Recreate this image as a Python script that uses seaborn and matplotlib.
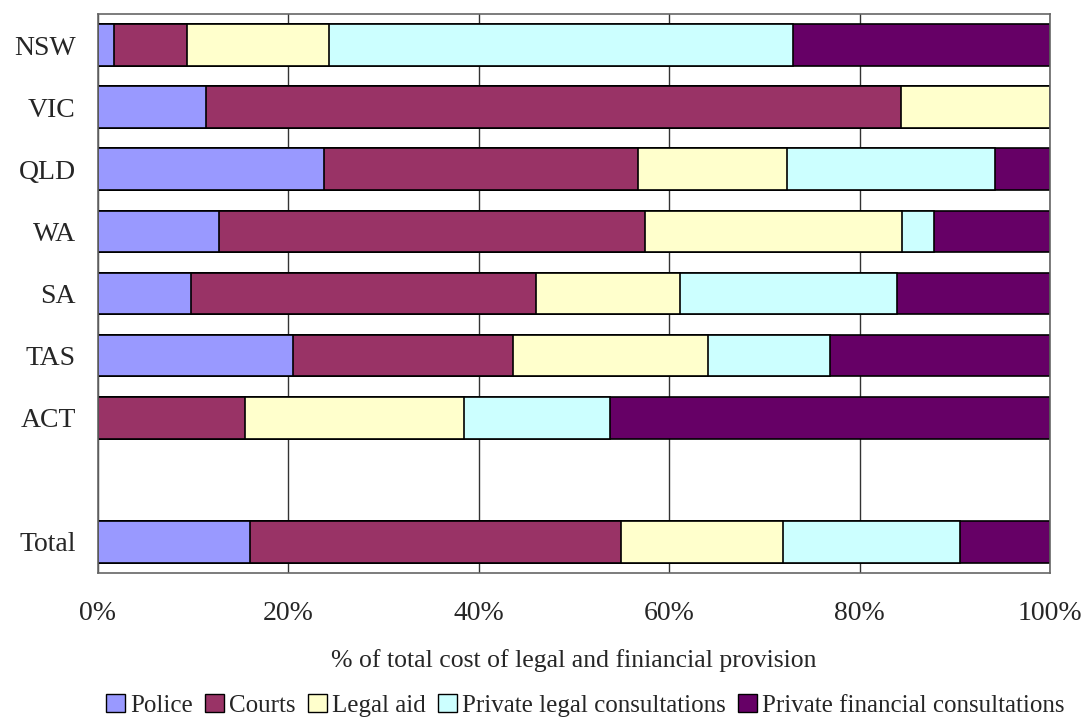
import numpy as np
import pandas as pd
import matplotlib
matplotlib.use("Agg")
import matplotlib.pyplot as plt
import seaborn as sns
from matplotlib.patches import Patch

# Data (percent of total cost)
states = ["NSW", "VIC", "QLD", "WA", "SA", "TAS", "ACT", "Total"]
police = [1.7, 11.3, 23.7, 12.7, 9.8, 20.45, 0.0, 16.0]
courts = [7.65, 73.05, 33.0, 44.75, 36.25, 23.15, 15.4, 38.9]
legal_aid = [14.95, 15.65, 15.7, 27.05, 15.05, 20.45, 23.05, 17.1]
private_legal = [48.7, 0.0, 21.85, 3.3, 22.8, 12.8, 15.35, 18.5]
private_financial = [27.0, 0.0, 5.75, 12.2, 16.1, 23.15, 46.2, 9.5]

series_names = ["Police", "Courts", "Legal aid", "Private legal consultations",
                "Private financial consultations"]
colors = ["#9999FF", "#993366", "#FFFFCC", "#CCFFFF", "#660066"]

# blank row between ACT and Total
order = ["NSW", "VIC", "QLD", "WA", "SA", "TAS", "ACT", " ", "Total"]

df = pd.DataFrame({
    "state": states,
    "Police": police,
    "Courts": courts,
    "Legal aid": legal_aid,
    "Private legal consultations": private_legal,
    "Private financial consultations": private_financial,
})
# normalise rows to 100%
vals = df[series_names].to_numpy()
vals = vals / vals.sum(axis=1, keepdims=True) * 100
cum = np.cumsum(vals, axis=1)

sns.set_style("white")
plt.rcParams["font.family"] = ["Liberation Serif", "DejaVu Serif"]

fig = plt.figure(figsize=(10.86, 7.18), dpi=100)
ax = fig.add_axes([0.0902, 0.2019, 0.8767, 0.7786])

# draw cumulative bars from the longest down so they stack visually
for i in range(len(series_names) - 1, -1, -1):
    d = pd.DataFrame({"state": df["state"], "x": cum[:, i]})
    sns.barplot(data=d, x="x", y="state", order=order, orient="h",
                color=colors[i], saturation=1, width=0.67,
                edgecolor="black", linewidth=1.2, ax=ax, zorder=2)

ax.set_xlim(0, 100)
ax.set_ylim(8.5, -0.5)
ax.set_xticks([0, 20, 40, 60, 80, 100])
ax.set_xticklabels(["0%", "20%", "40%", "60%", "80%", "100%"])
ax.xaxis.grid(True, color="#333333", linewidth=1.0)
ax.set_axisbelow(True)
ax.tick_params(axis="x", length=0, pad=20, labelsize=20)
ax.tick_params(axis="y", length=0, pad=16, labelsize=20)
for s in ax.spines.values():
    s.set_visible(True)
    s.set_color("#666666")
    s.set_linewidth(1.2)

ax.set_ylabel("")
ax.set_xlabel("% of total cost of legal and finiancial provision",
              fontsize=18.5, labelpad=17)

handles = [Patch(facecolor=c, edgecolor="black", linewidth=1.0, label=n)
           for n, c in zip(series_names, colors)]
fig.legend(handles=handles, loc="center", bbox_to_anchor=(0.539, 0.018),
           ncol=5, frameon=False, fontsize=18, handlelength=0.75,
           handleheight=0.75, handletextpad=0.2, columnspacing=0.5,
           borderpad=0)

fig.savefig("out.png", dpi=100)
